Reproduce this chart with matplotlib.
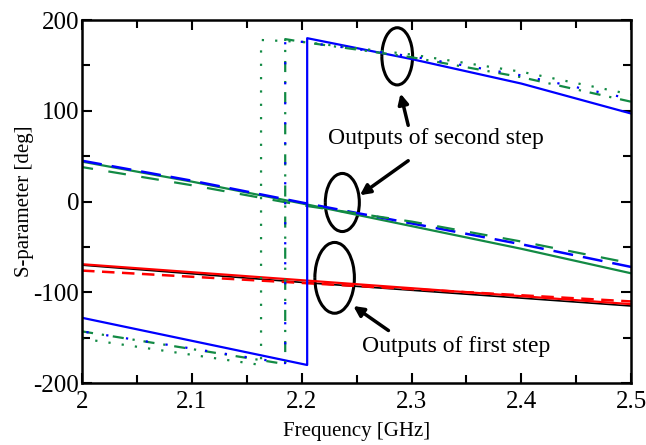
import numpy as np
import matplotlib
matplotlib.use('Agg')
import matplotlib.pyplot as plt
from matplotlib.patches import Arc
from matplotlib.ticker import MultipleLocator

plt.rcParams['font.family'] = ['Liberation Serif', 'DejaVu Serif']
plt.rcParams['axes.unicode_minus'] = False

# --- data (frequency GHz, phase deg) ---
# first step outputs
f_red = [2.0, 2.5]
red_solid = [-69, -113]
red_dash = [-76, -110]
f_black = [2.0, 2.2, 2.5]
black_solid = [-70, -89, -115]

# second step, middle group
f_mid = [2.0, 2.1, 2.2, 2.3, 2.4, 2.5]
green_mid = [44, 22, -2, -27, -52, -79]
blue_mid_dash = [45, 23, -1, -24, -47, -72]
green_mid_dash = [38, 18, -4, -22, -44, -68]

# second step, wrapped group (jump from -180 to +180)
f_blue = [2.0, 2.205, 2.205, 2.3, 2.4, 2.5]
blue_solid = [-128, -180, 180, 157, 130, 97]
f_gdot = [2.0, 2.163, 2.163, 2.2, 2.3, 2.4, 2.5]
green_dot = [-151, -180, 178, 176, 162, 143, 118]
f_dd = [2.0, 2.185, 2.185, 2.2, 2.3, 2.4, 2.5]
blue_dot = [-143, -178, 178, 176, 160, 139, 113]
green_dd = [-143, -179, 179, 176, 159, 137, 110]

xtick_labels = ['2', '2.1', '2.2', '2.3', '2.4', '2.5']

blue = '#0000ff'
green = '#128a44'
red = '#ff0000'

fig = plt.figure(figsize=(6.46, 4.45), dpi=100)
ax = fig.add_axes([0.127, 0.139, 0.85, 0.816])

ax.plot(f_black, black_solid, color='black', lw=1.2)
ax.plot(f_red, red_solid, color=red, lw=1.6)
ax.plot(f_red, red_dash, color=red, lw=1.8, ls=(0, (5, 3)))

ax.plot(f_mid, green_mid, color=green, lw=1.6)
ax.plot(f_mid, blue_mid_dash, color=blue, lw=1.8, ls=(0, (8, 4)))
ax.plot(f_mid, green_mid_dash, color=green, lw=1.6, ls=(3, (8, 7)))

ax.plot(f_blue, blue_solid, color=blue, lw=1.6)
ax.plot(f_gdot, green_dot, color=green, lw=1.6, ls=(0, (1, 5)))
ax.plot(f_dd, green_dd, color=green, lw=1.6, ls=(0, (5, 4, 1, 4)))
ax.plot(f_dd, blue_dot, color=blue, lw=1.6, ls=(7, (1, 8)))

ax.set_xlim(2.0, 2.5)
ax.set_ylim(-200, 200)
ax.set_xticks([2.0, 2.1, 2.2, 2.3, 2.4, 2.5])
ax.set_xticklabels(xtick_labels)
ax.xaxis.set_minor_locator(MultipleLocator(0.05))
ax.yaxis.set_major_locator(MultipleLocator(100))
ax.yaxis.set_minor_locator(MultipleLocator(50))
ax.tick_params(which='both', direction='in', top=True, right=True,
               width=1.5, labelsize=18)
ax.tick_params(axis='x', pad=6)
ax.tick_params(axis='y', pad=2)
ax.tick_params(which='major', length=7)
ax.tick_params(which='minor', length=6)
for s in ax.spines.values():
    s.set_linewidth(1.8)

ax.set_xlabel('Frequency [GHz]', fontsize=15, labelpad=6)
ax.set_ylabel('S-parameter [deg]', fontsize=15, labelpad=0)

# ellipses open on the left side
for (cx, cy, w, h) in [(2.287, 160, 0.028, 63), (2.237, -1, 0.031, 64),
                       (2.230, -84, 0.036, 78)]:
    ax.add_patch(Arc((cx, cy), w, h, theta1=-115, theta2=115,
                     color='black', lw=2.2))

arrow = dict(arrowstyle='-|>,head_length=0.6,head_width=0.3', color='black', lw=2.5,
             shrinkA=0, shrinkB=0)
ax.annotate('', xy=(2.290, 119), xytext=(2.297, 84), arrowprops=arrow)
ax.annotate('', xy=(2.253, 7), xytext=(2.297, 45), arrowprops=arrow)
ax.annotate('', xy=(2.247, -115), xytext=(2.279, -142), arrowprops=arrow)

ax.text(2.224, 69, 'Outputs of second step', fontsize=17, va='center', ha='left')
ax.text(2.255, -160, 'Outputs of first step', fontsize=17, va='center', ha='left')

fig.savefig('out.png', dpi=100)
